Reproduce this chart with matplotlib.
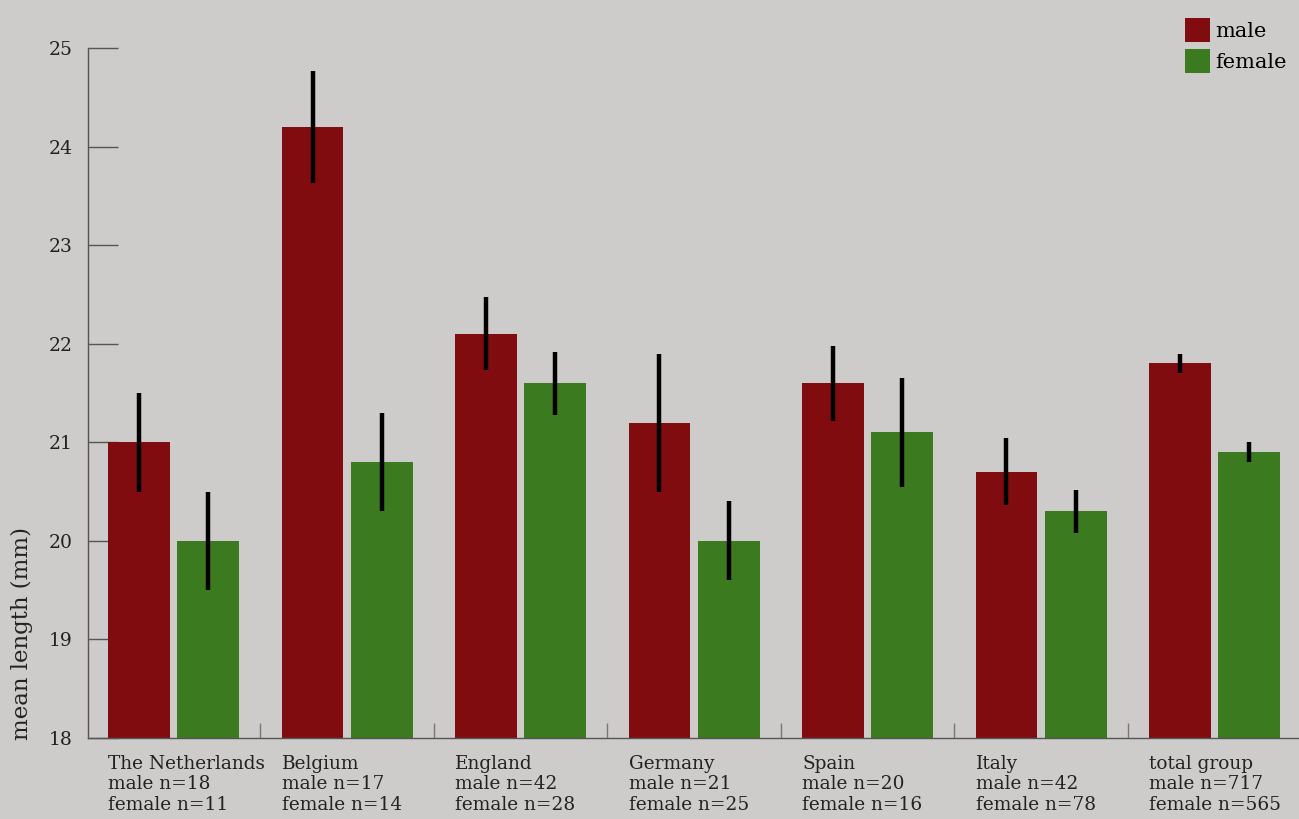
import matplotlib
matplotlib.use("Agg")
import matplotlib.pyplot as plt
from matplotlib.patches import Patch
import numpy as np

# Mean length per group, with error half-widths
groups = ["The Netherlands", "Belgium", "England", "Germany", "Spain", "Italy", "total group"]
male_n = [18, 17, 42, 21, 20, 42, 717]
female_n = [11, 14, 28, 25, 16, 78, 565]
male_mean = [21.0, 24.2, 22.1, 21.2, 21.6, 20.7, 21.8]
female_mean = [20.0, 20.8, 21.6, 20.0, 21.1, 20.3, 20.9]
male_err = [0.5, 0.57, 0.37, 0.7, 0.38, 0.34, 0.1]
female_err = [0.5, 0.5, 0.32, 0.4, 0.55, 0.22, 0.1]
yticks = [18, 19, 20, 21, 22, 23, 24, 25]

BG = "#cecccA"
MALE = "#800c10"
FEMALE = "#3c7a20"
FONT = "DejaVu Serif"

fig = plt.figure(figsize=(12.99, 8.19), dpi=100, facecolor=BG)
ax = fig.add_axes([88 / 1299, 81 / 819, 1 - 88 / 1299, 690 / 819])
ax.set_facecolor(BG)

x = np.arange(len(groups))
w = 0.357
off = 0.2
ax.bar(x - off, np.array(male_mean) - 18, w, bottom=18, color=MALE, zorder=2)
ax.bar(x + off, np.array(female_mean) - 18, w, bottom=18, color=FEMALE, zorder=2)
ax.errorbar(x - off, male_mean, yerr=male_err, fmt="none", ecolor="black",
            elinewidth=3.2, capsize=0, zorder=3)
ax.errorbar(x + off, female_mean, yerr=female_err, fmt="none", ecolor="black",
            elinewidth=3.2, capsize=0, zorder=3)

ax.set_ylim(18, 25)
ax.set_xlim(-0.494, len(groups) - 0.514)

for s in ["top", "right"]:
    ax.spines[s].set_visible(False)
for s in ["left", "bottom"]:
    ax.spines[s].set_color("#555555")
    ax.spines[s].set_linewidth(1.0)

ax.set_yticks(yticks)
ax.set_yticklabels([str(t) for t in yticks], fontfamily=FONT, fontsize=13.5, color="#222222")
ax.tick_params(axis="y", direction="in", length=21.6, width=1, color="#555555", pad=11)

# group separators as small inward ticks on the baseline
ax.set_xticks([])
ax.set_xticks(x[:-1] + 0.5, minor=True)
ax.tick_params(axis="x", which="minor", direction="in", length=11, width=1, color="#777777")

for i, g in enumerate(groups):
    ax.text(i - off - w / 2, 17.83,
            f"{g}\nmale n={male_n[i]}\nfemale n={female_n[i]}",
            ha="left", va="top", fontfamily=FONT, fontsize=13.3,
            color="#222222", linespacing=1.17, clip_on=False)

fig.text(22 / 1299, 1 - 633 / 819, "mean length (mm)", rotation=90, ha="center",
         va="center", fontfamily=FONT, fontsize=16.5, color="#222222")

handles = [Patch(facecolor=MALE, label="male"), Patch(facecolor=FEMALE, label="female")]
fig.legend(handles=handles, loc="upper right", bbox_to_anchor=(1.004, 1.0),
           frameon=False, prop={"family": FONT, "size": 15},
           handlelength=1.2, handleheight=1.4, handletextpad=0.25, labelspacing=0.35,
           borderaxespad=0.45)

fig.savefig("out.png", dpi=100, facecolor=BG)
